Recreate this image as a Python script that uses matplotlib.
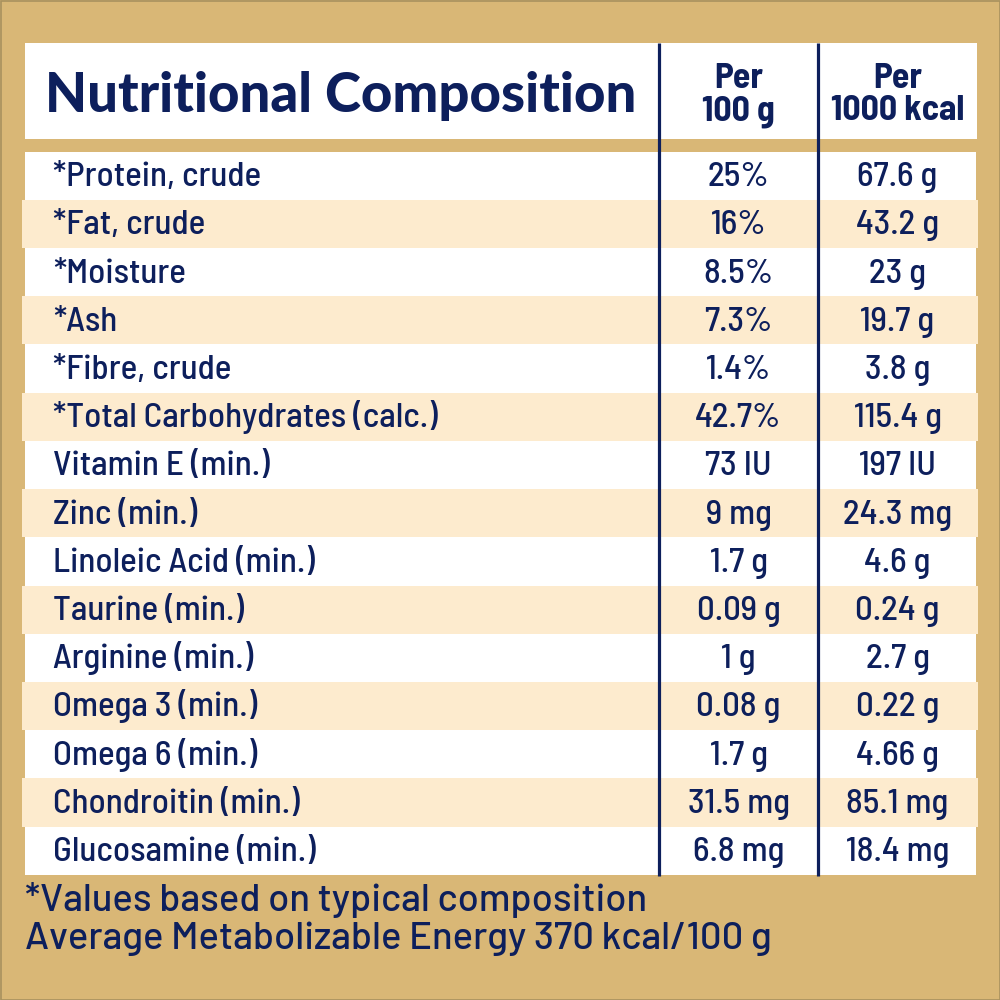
import matplotlib
matplotlib.use('Agg')
import matplotlib.pyplot as plt
from matplotlib.patches import Rectangle
from matplotlib import font_manager

# ---------------- data ----------------
title_text = "Nutritional Composition"
col_headers = ["Per\n100 g", "Per\n1000 kcal"]
nutrients = [
    "*Protein, crude", "*Fat, crude", "*Moisture", "*Ash", "*Fibre, crude",
    "*Total Carbohydrates (calc.)", "Vitamin E (min.)", "Zinc (min.)",
    "Linoleic Acid (min.)", "Taurine (min.)", "Arginine (min.)",
    "Omega 3 (min.)", "Omega 6 (min.)", "Chondroitin (min.)", "Glucosamine (min.)",
]
per_100g = ["25%", "16%", "8.5%", "7.3%", "1.4%", "42.7%", "73 IU", "9 mg",
            "1.7 g", "0.09 g", "1 g", "0.08 g", "1.7 g", "31.5 mg", "6.8 mg"]
per_1000kcal = ["67.6 g", "43.2 g", "23 g", "19.7 g", "3.8 g", "115.4 g", "197 IU",
                "24.3 mg", "4.6 g", "0.24 g", "2.7 g", "0.22 g", "4.66 g",
                "85.1 mg", "18.4 mg"]
footnotes = ["*Values based on typical composition",
             "Average Metabolizable Energy 370 kcal/100 g"]

# ---------------- style ----------------
NAVY = '#0D1F5C'
GOLD = '#D9B776'
CREAM = '#FDEBCE'
WHITE = '#FFFFFF'

available = {f.name for f in font_manager.fontManager.ttflist}
def pick(*names):
    for n in names:
        if n in available:
            return [n, 'DejaVu Sans']
    return ['DejaVu Sans']

NARROW = pick('Barlow Semi Condensed', 'Barlow Condensed', 'PT Sans Narrow',
              'Roboto Condensed', 'IBM Plex Sans Condensed', 'Roboto')
TITLE_F = pick('Lato', 'Open Sans', 'Roboto')
FOOT_F = pick('Barlow', 'Roboto')

fig = plt.figure(figsize=(10, 10), dpi=100)
fig.patch.set_facecolor(GOLD)
ax = fig.add_axes([0, 0, 1, 1])
ax.set_xlim(0, 1000)
ax.set_ylim(1000, 0)
ax.axis('off')

# outer thin border
ax.add_patch(Rectangle((0.5, 0.5), 999, 999, fill=False, edgecolor='#A8915E', lw=1.2))

# header box
ax.add_patch(Rectangle((25, 43), 952, 96, facecolor=WHITE, edgecolor='none'))

row_top0 = 151.7
row_h = 48.2
n = len(nutrients)
table_bottom = row_top0 + n * row_h
ax.add_patch(Rectangle((24.5, row_top0), 951.5, n * row_h, facecolor=WHITE, edgecolor='none'))
for i in range(n):
    top = row_top0 + i * row_h
    if i % 2 == 1:
        ax.add_patch(Rectangle((22, top), 956, row_h, facecolor=CREAM, edgecolor='none'))

# vertical separators
col_x = [659, 818]
for x in col_x:
    ax.plot([x, x], [43, table_bottom + 1], color=NAVY, lw=2.3, solid_capstyle='butt')

col_centers = [738.5, 897.5]

fig.canvas.draw()
renderer = fig.canvas.get_renderer()

def fit(t, width):
    w = t.get_window_extent(renderer).width
    t.set_fontsize(t.get_fontsize() * width / w)
    return t.get_fontsize()

# title
t = ax.text(45, 112, title_text, color=NAVY, fontsize=30, fontweight='black',
            family=TITLE_F, ha='left', va='baseline')
fit(t, 590)

# column headers
hdr = []
for cx, h in zip(col_centers, col_headers):
    top, bot = h.split('\n')
    a = ax.text(cx, 88, top, color=NAVY, fontsize=20, fontweight='bold',
                family=NARROW, ha='center', va='baseline')
    b = ax.text(cx, 120, bot, color=NAVY, fontsize=20, fontweight='bold',
                family=NARROW, ha='center', va='baseline')
    hdr.append((a, b))
hs = fit(hdr[1][1], 133)
for a, b in hdr:
    a.set_fontsize(hs)
    b.set_fontsize(hs)

# body
probe = ax.text(53, 0, nutrients[5], fontsize=20, family=NARROW, fontweight='medium')
bs = fit(probe, 385)
probe.remove()
for i, (name, v1, v2) in enumerate(zip(nutrients, per_100g, per_1000kcal)):
    yb = row_top0 + i * row_h + 34.5
    kw = dict(color=NAVY, fontsize=bs, family=NARROW, fontweight='medium', va='baseline')
    ax.text(53, yb, name, ha='left', **kw)
    ax.text(col_centers[0], yb, v1, ha='center', **kw)
    ax.text(col_centers[1], yb, v2, ha='center', **kw)

# footnotes
fkw = dict(color=NAVY, fontsize=20, family=FOOT_F, fontweight='medium', ha='left', va='baseline')
f1 = ax.text(25, 911, footnotes[0], **fkw)
f2 = ax.text(25, 948.5, footnotes[1], **fkw)
s1 = fit(f1, 614)
s2 = fit(f2, 757)
fs = (s1 + s2) / 2
f1.set_fontsize(fs)
f2.set_fontsize(fs)

fig.savefig('out.png', dpi=100, facecolor=GOLD)
